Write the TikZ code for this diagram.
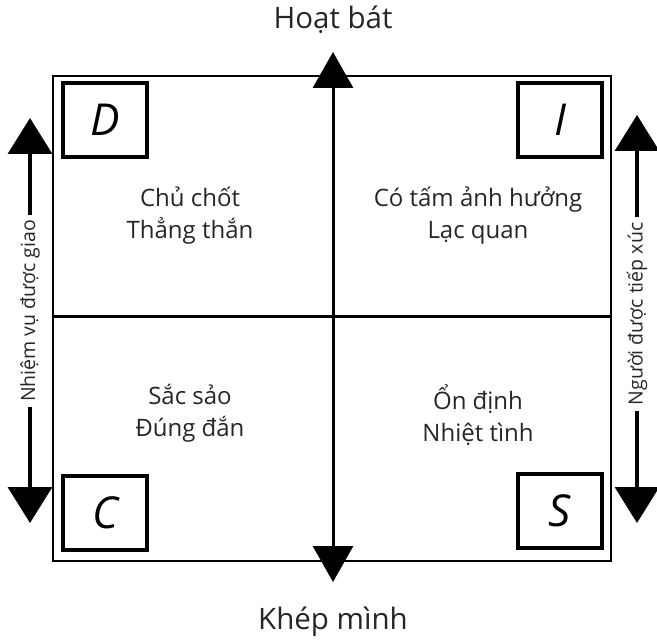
\documentclass[tikz,border=0pt]{standalone}
\usepackage{fontspec}
\setmainfont{Open Sans}
\usetikzlibrary{arrows.meta}
\begin{document}
\begin{tikzpicture}[x=1bp,y=-1bp]
\useasboundingbox (0,0) rectangle (657,643);
\tikzset{
  quad/.style={align=center,inner sep=0pt,text=black!85,font=\fontsize{24bp}{32bp}\selectfont},
  letterbox/.style={draw,line width=3.5bp,minimum width=84bp,minimum height=74bp,inner sep=0pt,font=\fontsize{44bp}{44bp}\selectfont\itshape},
  bigtip/.tip={Triangle[width=40bp,length=36bp]},
  sidetip/.tip={Triangle[width=44bp,length=36bp]},
  axisline/.style={line width=3bp},
  sidearrow/.style={line width=3.5bp,-sidetip},
  sidelabel/.style={rotate=90,inner sep=5bp,text=black!85,font=\fontsize{19.5bp}{19.5bp}\selectfont},
  titlelabel/.style={text=black!85,font=\fontsize{29.5bp}{29.5bp}\selectfont}
}
% frame
\node[draw,line width=1.5bp,minimum width=558bp,minimum height=485bp,inner sep=0pt] (frame) at (332,318.5) {};
\coordinate (hl) at (53,316);
\coordinate (hr) at (611,316);
\draw[axisline] (hl) -- (hr);
% vertical axis
\coordinate (vt) at (333,52);
\coordinate (vb) at (333,582);
\draw[axisline,bigtip-bigtip] (vb) -- (vt);
% letter boxes
\node[letterbox] (D) at (105,120) {D};
\node[letterbox] (I) at (560,120) {I};
\node[letterbox] (C) at (105,513) {C};
\node[letterbox] (S) at (560,511) {S};
% quadrant texts
\node[quad] (q1) at (190,216) {Chủ chốt\\Thẳng thắn};
\node[quad] (q2) at (478,216) {Có tấm ảnh hưởng\\Lạc quan};
\node[quad] (q3) at (190,413) {Sắc sảo\\Đúng đắn};
\node[quad] (q4) at (478,415) {Ổn định\\Nhiệt tình};
% titles
\node[titlelabel] (top) at (333,20) {Hoạt bát};
\node[titlelabel] (bot) at (333,622) {Khép mình};
% side arrows
\node[sidelabel] (ll) at (30,311) {Nhiệm vụ được giao};
\coordinate (ltop) at (30,118);
\coordinate (lbot) at (30,523);
\draw[sidearrow] (ll.east) -- (ltop);
\draw[sidearrow] (ll.west) -- (lbot);
\node[sidelabel] (rl) at (637,314) {Người được tiếp xúc};
\coordinate (rtop) at (637,115);
\coordinate (rbot) at (637,523);
\draw[sidearrow] (rl.east) -- (rtop);
\draw[sidearrow] (rl.west) -- (rbot);
\end{tikzpicture}
\end{document}
